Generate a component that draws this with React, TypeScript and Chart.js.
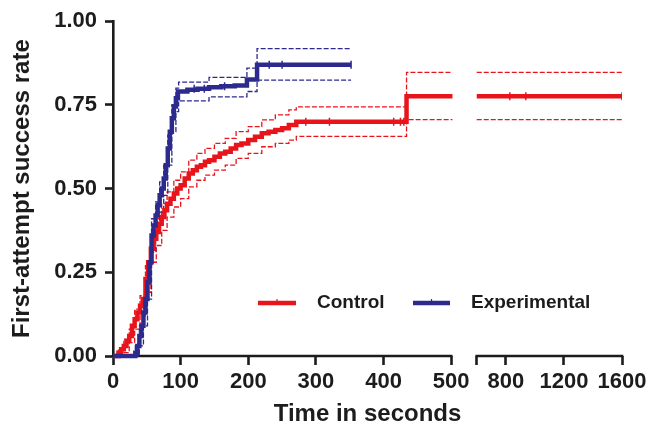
import React, { useEffect, useRef } from 'react';
import { Chart, registerables, LinearScale } from 'chart.js';

// ---------------- data ----------------
const seriesLabels = ['Control', 'Experimental'];
const xTickSeconds = [0, 100, 200, 300, 400, 500, 600, 800, 1200, 1600];
const xHiddenTickLabels = [600];
const yTickStep = 0.25;

// Control (Kaplan-Meier steps), left part of the broken axis
const controlTime = [0, 8, 12, 16, 20, 24, 28, 32, 36, 40, 44, 48, 52, 56, 60, 64, 68, 72, 76, 80, 85, 90, 95, 100, 106, 112, 118, 124, 130, 136, 142, 150, 158, 166, 174, 182, 190, 200, 210, 220, 230, 240, 250, 260, 271, 434, 505];
const controlRate = [0, 0.01, 0.02, 0.03, 0.045, 0.06, 0.09, 0.11, 0.13, 0.15, 0.17, 0.23, 0.28, 0.32, 0.35, 0.37, 0.395, 0.415, 0.435, 0.455, 0.47, 0.485, 0.5, 0.51, 0.53, 0.545, 0.555, 0.565, 0.57, 0.58, 0.585, 0.595, 0.605, 0.61, 0.62, 0.63, 0.635, 0.645, 0.655, 0.665, 0.67, 0.675, 0.68, 0.69, 0.7, 0.776, 0.776];
const controlTimeRight = [600, 1600];
const controlRateRight = [0.776, 0.776];

const controlCiTime = [0, 8, 16, 24, 32, 40, 48, 56, 64, 72, 80, 90, 100, 112, 124, 136, 150, 166, 182, 200, 220, 240, 260, 271, 434, 505];
const controlUpper = [0, 0.02, 0.05, 0.08, 0.14, 0.18, 0.27, 0.36, 0.41, 0.455, 0.49, 0.525, 0.55, 0.585, 0.605, 0.62, 0.635, 0.65, 0.67, 0.685, 0.705, 0.72, 0.735, 0.744, 0.847, 0.847];
const controlLower = [0, 0, 0.01, 0.04, 0.08, 0.12, 0.19, 0.28, 0.33, 0.375, 0.415, 0.445, 0.47, 0.505, 0.525, 0.54, 0.555, 0.57, 0.59, 0.605, 0.625, 0.635, 0.645, 0.656, 0.706, 0.706];
const controlCiTimeRight = [600, 1600];
const controlUpperRight = [0.847, 0.847];
const controlLowerRight = [0.706, 0.706];

// Experimental
const expTime = [0, 33, 36, 39, 42, 45, 48, 51, 54, 57, 60, 63, 66, 69, 72, 75, 78, 81, 84, 87, 90, 93, 96, 110, 125, 142, 160, 180, 198, 213, 352];
const expRate = [0, 0.01, 0.03, 0.06, 0.09, 0.13, 0.17, 0.22, 0.28, 0.36, 0.39, 0.42, 0.45, 0.48, 0.5, 0.53, 0.57, 0.62, 0.67, 0.71, 0.745, 0.77, 0.79, 0.795, 0.798, 0.803, 0.806, 0.808, 0.826, 0.87, 0.87];
const expCiTime = [0, 33, 39, 45, 51, 57, 63, 69, 75, 81, 87, 93, 97, 142, 198, 213, 352];
const expUpper = [0, 0.03, 0.09, 0.17, 0.27, 0.41, 0.46, 0.52, 0.57, 0.66, 0.75, 0.8, 0.818, 0.832, 0.86, 0.918, 0.918];
const expLower = [0, 0, 0.03, 0.09, 0.17, 0.31, 0.37, 0.43, 0.48, 0.57, 0.67, 0.73, 0.762, 0.774, 0.79, 0.824, 0.824];

// censor marks
const controlCensorTime = [285, 320, 415, 425, 430, 828, 938, 1600];
const controlCensorRate = [0.7, 0.7, 0.7, 0.7, 0.7, 0.776, 0.776, 0.776];
const expCensorTime = [120, 135, 165, 231, 250, 352];
const expCensorRate = [0.798, 0.798, 0.806, 0.87, 0.87, 0.87];

// ---------------- styling constants ----------------
const RED = '#e8141c';
const BLUE = '#2d2a8e';
const INK = '#1c1c1c';
const FONT = '"Liberation Sans", Arial, Helvetica, sans-serif';

const BREAK_LEFT_END = 500;
const BREAK_RIGHT_START = 600;
const LEFT_FRAC = 0.6644;
const RIGHT_START_FRAC = 0.7146;

class BrokenLinearScale extends LinearScale {
  static id = 'brokenLinear';
  toDecimal(v: number) {
    const min = this.min;
    const max = this.max;
    if (v <= BREAK_LEFT_END) return ((v - min) / (BREAK_LEFT_END - min)) * LEFT_FRAC;
    if (v >= BREAK_RIGHT_START)
      return RIGHT_START_FRAC + ((v - BREAK_RIGHT_START) / (max - BREAK_RIGHT_START)) * (1 - RIGHT_START_FRAC);
    return LEFT_FRAC + ((v - BREAK_LEFT_END) / (BREAK_RIGHT_START - BREAK_LEFT_END)) * (RIGHT_START_FRAC - LEFT_FRAC);
  }
  getPixelForValue(value: any) {
    if (value === null || value === undefined || isNaN(value)) return NaN;
    return this.getPixelForDecimal(this.toDecimal(value));
  }
  getValueForPixel(pixel: number) {
    const d = this.getDecimalForPixel(pixel);
    if (d <= LEFT_FRAC) return this.min + (d / LEFT_FRAC) * (BREAK_LEFT_END - this.min);
    if (d >= RIGHT_START_FRAC)
      return BREAK_RIGHT_START + ((d - RIGHT_START_FRAC) / (1 - RIGHT_START_FRAC)) * (this.max - BREAK_RIGHT_START);
    return BREAK_LEFT_END + ((d - LEFT_FRAC) / (RIGHT_START_FRAC - LEFT_FRAC)) * (BREAK_RIGHT_START - BREAK_LEFT_END);
  }
  buildTicks() {
    return xTickSeconds.map((value) => ({ value }));
  }
}

Chart.register(...registerables, BrokenLinearScale);

const pts = (xs: number[], ys: number[]) => xs.map((x, i) => ({ x, y: ys[i] }));
const withGap = (left: any[], right: any[]) => [...left, { x: 550, y: null }, ...right];

const brokenAxisLine = {
  id: 'brokenAxisLine',
  beforeDatasetsDraw(chart: any) {
    const sx = chart.scales.x;
    const ctx = chart.ctx;
    const y = sx.top;
    ctx.save();
    ctx.strokeStyle = INK;
    ctx.lineWidth = 2.6;
    ctx.lineCap = 'butt';
    ctx.beginPath();
    ctx.moveTo(sx.getPixelForValue(0) - 1.3, y);
    ctx.lineTo(sx.getPixelForValue(BREAK_LEFT_END) + 1.3, y);
    ctx.moveTo(sx.getPixelForValue(BREAK_RIGHT_START) - 1.3, y);
    ctx.lineTo(sx.getPixelForValue(1600) + 1.3, y);
    ctx.stroke();
    ctx.restore();
  },
};

const innerLegend = {
  id: 'innerLegend',
  afterDatasetsDraw(chart: any, _args: any, opts: any) {
    const ctx = chart.ctx;
    const items = opts.items || [];
    ctx.save();
    items.forEach((it: any) => {
      ctx.strokeStyle = it.color;
      ctx.lineWidth = 4.5;
      ctx.beginPath();
      ctx.moveTo(it.x, it.y);
      ctx.lineTo(it.x + it.len, it.y);
      ctx.stroke();
      ctx.lineWidth = 1.2;
      ctx.beginPath();
      ctx.moveTo(it.x + it.len / 2, it.y - 4);
      ctx.lineTo(it.x + it.len / 2, it.y);
      ctx.stroke();
      ctx.fillStyle = INK;
      ctx.font = `bold 19px ${FONT}`;
      ctx.textBaseline = 'middle';
      ctx.textAlign = 'left';
      ctx.fillText(it.label, it.textX, it.y);
    });
    ctx.restore();
  },
};

export default function App() {
  const ref = useRef<HTMLCanvasElement | null>(null);

  useEffect(() => {
    if (!ref.current) return;
    const lineBase = {
      stepped: 'before' as const,
      pointRadius: 0,
      pointHoverRadius: 0,
      fill: false,
      clip: 8,
    };
    const chart = new Chart(ref.current, {
      type: 'line',
      data: {
        datasets: [
          {
            ...lineBase,
            label: seriesLabels[1],
            data: pts(expTime, expRate),
            borderColor: BLUE,
            borderWidth: 4.5,
            order: 0,
          },
          {
            ...lineBase,
            label: seriesLabels[0],
            data: withGap(pts(controlTime, controlRate), pts(controlTimeRight, controlRateRight)),
            borderColor: RED,
            borderWidth: 4.5,
            order: 1,
          },
          {
            ...lineBase,
            label: 'exp upper',
            data: pts(expCiTime, expUpper),
            borderColor: BLUE,
            borderWidth: 1.3,
            borderDash: [5, 2],
            order: 3,
          },
          {
            ...lineBase,
            label: 'exp lower',
            data: pts(expCiTime, expLower),
            borderColor: BLUE,
            borderWidth: 1.3,
            borderDash: [5, 2],
            order: 3,
          },
          {
            ...lineBase,
            label: 'control upper',
            data: withGap(pts(controlCiTime, controlUpper), pts(controlCiTimeRight, controlUpperRight)),
            borderColor: RED,
            borderWidth: 1.3,
            borderDash: [5, 2],
            order: 4,
          },
          {
            ...lineBase,
            label: 'control lower',
            data: withGap(pts(controlCiTime, controlLower), pts(controlCiTimeRight, controlLowerRight)),
            borderColor: RED,
            borderWidth: 1.3,
            borderDash: [5, 2],
            order: 4,
          },
          {
            label: 'control censored',
            data: pts(controlCensorTime, controlCensorRate),
            showLine: false,
            pointStyle: 'line',
            rotation: 90,
            pointRadius: 4,
            borderColor: RED,
            backgroundColor: RED,
            borderWidth: 1.5,
            order: -1,
          },
          {
            label: 'exp censored',
            data: pts(expCensorTime, expCensorRate),
            showLine: false,
            pointStyle: 'line',
            rotation: 90,
            pointRadius: 4,
            borderColor: BLUE,
            backgroundColor: BLUE,
            borderWidth: 1.5,
            order: -1,
          },
        ],
      },
      options: {
        responsive: false,
        animation: false,
        events: [],
        layout: { padding: { top: 16, right: 29, left: 0, bottom: 0 } },
        plugins: {
          legend: { display: false },
          tooltip: { enabled: false },
          innerLegend: {
            items: [
              { label: seriesLabels[0], color: RED, x: 258, y: 303, len: 38, textX: 317 },
              { label: seriesLabels[1], color: BLUE, x: 413, y: 303, len: 37, textX: 471 },
            ],
          },
        } as any,
        scales: {
          x: {
            type: 'brokenLinear' as any,
            min: 0,
            max: 1600,
            border: { display: false },
            grid: {
              display: true,
              drawOnChartArea: false,
              drawTicks: true,
              tickLength: 9,
              tickWidth: 2.6,
              tickColor: INK,
            },
            ticks: {
              autoSkip: false,
              maxRotation: 0,
              padding: 4,
              color: INK,
              font: { family: FONT, size: 22, weight: 'bold' },
              callback: (v: any) => (xHiddenTickLabels.includes(v) ? '' : String(v)),
            },
            title: {
              display: true,
              text: 'Time in seconds',
              color: INK,
              font: { family: FONT, size: 24, weight: 'bold' },
              padding: { top: 0, bottom: 2 },
            },
            afterFit: (s: any) => {
              s.height = 75;
            },
          } as any,
          y: {
            type: 'linear',
            min: 0,
            max: 1,
            border: { display: true, color: INK, width: 2.6 },
            grid: {
              display: true,
              drawOnChartArea: false,
              drawTicks: true,
              tickLength: 8,
              tickWidth: 2.6,
              tickColor: INK,
            },
            ticks: {
              stepSize: yTickStep,
              padding: 8,
              color: INK,
              font: { family: FONT, size: 22, weight: 'bold' },
              callback: (v: any) => Number(v).toFixed(2),
            },
            title: {
              display: true,
              text: 'First-attempt success rate',
              color: INK,
              font: { family: FONT, size: 24, weight: 'bold' },
              padding: { top: 8, bottom: 0 },
            },
            afterFit: (s: any) => {
              s.width = 113;
            },
          },
        },
      },
      plugins: [brokenAxisLine, innerLegend],
    });
    return () => chart.destroy();
  }, []);

  return (
    <canvas
      ref={ref}
      width={651}
      height={431}
      style={{ position: 'fixed', left: 0, top: 0, width: 651, height: 431, display: 'block', background: '#fff' }}
    />
  );
}
